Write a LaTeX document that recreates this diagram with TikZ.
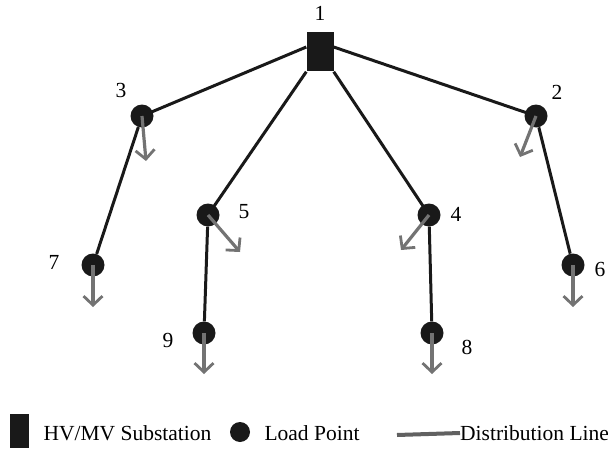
\documentclass[tikz,border=0pt]{standalone}
\usepackage{fontspec}
\setmainfont{Liberation Serif}
\usetikzlibrary{arrows.meta}

\tikzset{
  substation/.style={fill=black!90, minimum width=27pt, minimum height=39pt, inner sep=0pt},
  loadpt/.style={circle, fill=black!90, minimum size=23pt, inner sep=0pt},
  feeder/.style={line width=3pt, black!90},
  loadarrow/.style={line width=3.2pt, black!55, -{Straight Barb[length=9pt,width=19pt,line width=2.8pt]}},
  lbl/.style={font=\fontsize{21.5}{24}\selectfont}
}

\begin{document}
\begin{tikzpicture}[x=1pt,y=-1pt]
  \useasboundingbox (0,0) rectangle (608,452);
  % nodes
  \node[substation] (n1) at (320,52) {}; \node[lbl] at (320,13) {1};
  \node[loadpt] (n3) at (142,116) {}; \node[lbl] at (121,90) {3};
  \node[loadpt] (n2) at (536,116) {}; \node[lbl] at (557,92) {2};
  \node[loadpt] (n5) at (208,215) {}; \node[lbl] at (244,212) {5};
  \node[loadpt] (n4) at (429,215) {}; \node[lbl] at (456,214) {4};
  \node[loadpt] (n7) at (93,265) {}; \node[lbl] at (54,262) {7};
  \node[loadpt] (n6) at (573,265) {}; \node[lbl] at (600,269) {6};
  \node[loadpt] (n9) at (204,333) {}; \node[lbl] at (168,340) {9};
  \node[loadpt] (n8) at (432,333) {}; \node[lbl] at (467,347) {8};
  % lines
  \draw[feeder] (n1.160) -- (n3.center);
  \draw[feeder] (n1.20) -- (n2.center);
  \draw[feeder] (n1.south west) -- (n5.center);
  \draw[feeder] (n1.south east) -- (n4.center);
  \draw[feeder] (n3) -- (n7); \draw[feeder] (n5) -- (n9);
  \draw[feeder] (n4) -- (n8); \draw[feeder] (n2) -- (n6);
  % loads
  \coordinate (l3) at (146,161); \coordinate (l2) at (520,157);
  \coordinate (l5) at (240,252); \coordinate (l4) at (401,250);
  \coordinate (l7) at (93,307); \coordinate (l6) at (573,307);
  \coordinate (l9) at (204,374); \coordinate (l8) at (432,374);
  \foreach \n in {3,2,5,4,7,6,9,8}
    \draw[loadarrow] (n\n.center) -- (l\n);
  % legend
  \node[substation, minimum width=19pt, minimum height=34pt] (key1) at (19,431) {};
  \node[lbl, anchor=west] at (40,433) {HV/MV Substation};
  \node[loadpt, minimum size=20pt] (key2) at (240,432) {};
  \node[lbl, anchor=west] at (261,433) {Load Point};
  \coordinate (key3) at (397,435);
  \node[lbl, anchor=west, inner sep=0pt] (key4) at (460,433) {Distribution Line};
  \draw[line width=4pt, black!62] (key3) -- (key4.west);
\end{tikzpicture}
\end{document}
